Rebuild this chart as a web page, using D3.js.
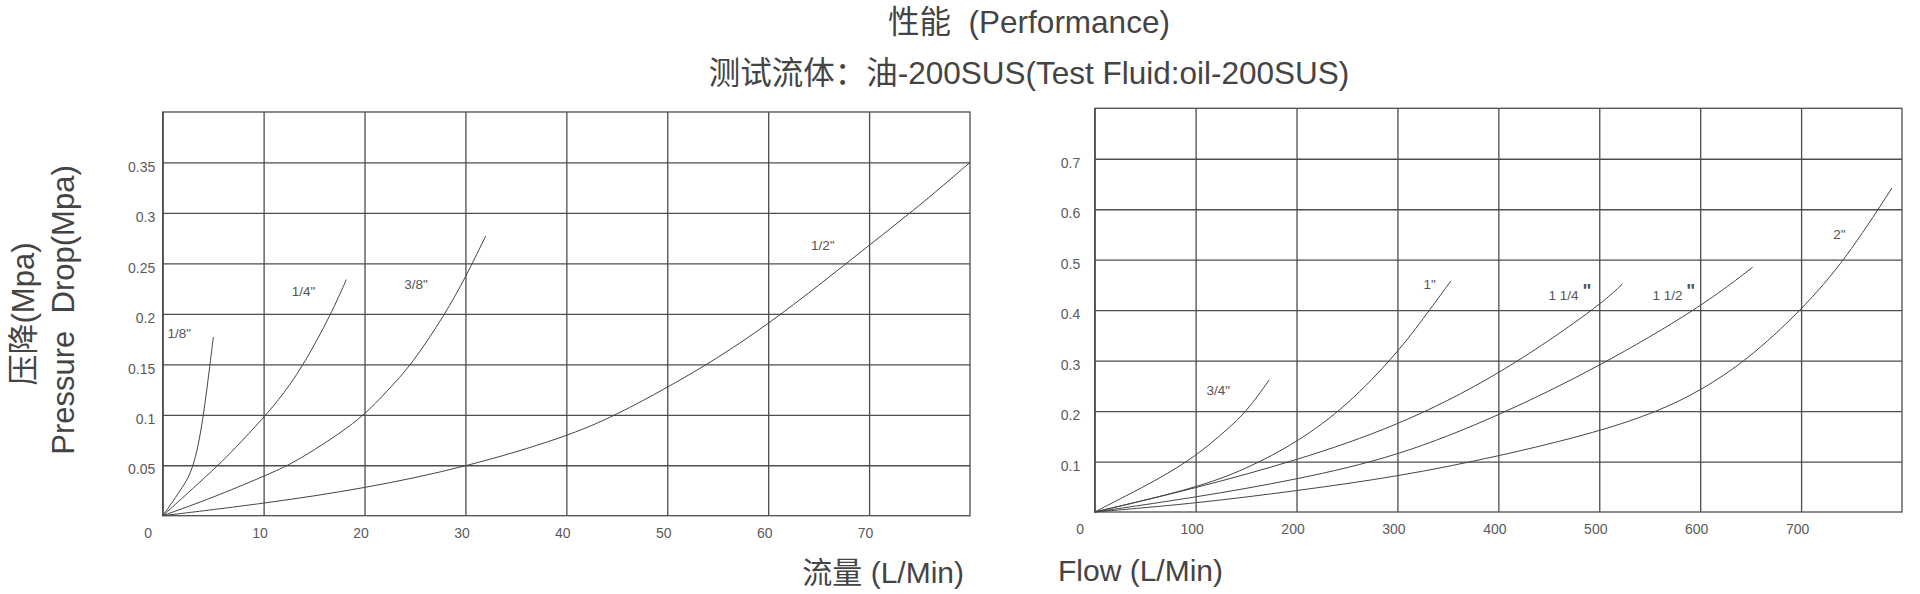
<!DOCTYPE html>
<html>
<head>
<meta charset="utf-8">
<script src="https://cdn.jsdelivr.net/npm/d3@7"></script>
<style>
body { margin: 0; background: #fff; }
text { font-family: "Liberation Sans", "Noto Sans CJK SC", sans-serif; }
</style>
</head>
<body>
<div id="container-div"></div>
<script>
// ---- data: [flow L/min, pressure drop MPa] ----
const leftSizes = ['1/8"', '1/4"', '3/8"', '1/2"'];
const curve18 = [[0,0],[1,0.014],[2,0.029],[2.5,0.037],[3,0.049],[3.5,0.068],[4,0.097],[4.4,0.127],[4.75,0.155],[5.02,0.177]];
const curve14 = [[0,0],[3,0.027],[5.5,0.05],[7,0.065],[10,0.097],[12,0.121],[14,0.15],[16.7,0.2],[18.2,0.234]];
const curve38 = [[0,0],[5,0.018],[10,0.039],[12.5,0.05],[15,0.065],[17.6,0.082],[20,0.1],[22.2,0.123],[24.7,0.15],[28,0.2],[30,0.236],[32,0.277]];
const curve12 = [[0,0],[10,0.012],[20,0.027],[30,0.048],[40,0.078],[45,0.1],[50,0.127],[55,0.156],[60,0.19],[65,0.228],[70,0.268],[75,0.307],[80,0.35]];
const leftLabelAt = [[1.65,0.181],[13.95,0.222],[25.1,0.229],[65.4,0.268]];

const rightSizes = ['3/4"', '1"', '1 1/4"', '1 1/2"', '2"'];
const curve34 = [[0,0],[30,0.031],[63,0.065],[100,0.11],[131,0.163],[151,0.2],[173,0.262]];
const curve1 = [[0,0],[100,0.047],[150,0.085],[200,0.137],[250,0.21],[300,0.315],[330,0.395],[353,0.458]];
const curve114 = [[0,0],[100,0.047],[200,0.102],[300,0.17],[400,0.27],[500,0.408],[523,0.452]];
const curve112 = [[0,0],[100,0.029],[200,0.064],[300,0.11],[400,0.19],[500,0.288],[600,0.405],[652,0.485]];
const curve2 = [[0,0],[100,0.017],[200,0.042],[300,0.07],[400,0.11],[500,0.159],[559,0.2],[600,0.24],[646,0.3],[700,0.399],[744,0.5],[790,0.642]];
const rightLabelAt = [[122.5,0.241],[332,0.452],[471,0.43],[574,0.43],[738,0.551]];

const leftXTicks = [0,10,20,30,40,50,60,70];
const leftYTicks = [0.05,0.1,0.15,0.2,0.25,0.3,0.35];
const rightXTicks = [0,100,200,300,400,500,600,700];
const rightYTicks = [0.1,0.2,0.3,0.4,0.5,0.6,0.7];

const titleLines = ["性能  (Performance)", "测试流体：油-200SUS(Test Fluid:oil-200SUS)"];

let viz = d3.select("#container-div").append("svg")
    .attr("width", 1920)
    .attr("height", 594)
    .attr("id", "viz");

viz.selectAll("text.title").data(titleLines).enter()
    .append("text")
    .attr("class", "title")
    .attr("x", 1029)
    .attr("y", (d, i) => i == 0 ? 33 : 84)
    .attr("text-anchor", "middle")
    .attr("font-size", 31.5)
    .attr("fill", "#444")
    .style("white-space", "pre")
    .text(d => d);

function drawPanel(p) {
    let x = d3.scaleLinear().domain(p.xDomain).range([p.left, p.right]);
    let y = d3.scaleLinear().domain(p.yDomain).range([p.bottom, p.top]);
    let g = viz.append("g");

    // grid + tick labels through the axes
    let xAxis = g.append("g")
        .attr("transform", "translate(0," + p.bottom + ")")
        .call(d3.axisBottom(x).tickValues(p.xTicks).tickSize(-(p.bottom - p.top)).tickPadding(12.5));
    let yAxis = g.append("g")
        .attr("transform", "translate(" + p.left + ",0)")
        .call(d3.axisLeft(y).tickValues(p.yTicks).tickSize(-(p.right - p.left)).tickPadding(p.yPad)
            .tickFormat(d => String(+d.toFixed(2))));

    [xAxis, yAxis].forEach(a => {
        a.select(".domain").remove();
        a.selectAll("line").attr("stroke", "#4d4d4d").attr("stroke-width", 1.3);
        a.selectAll("text")
            .attr("font-size", 14)
            .attr("fill", "#5a5a5a")
            .attr("font-family", "Liberation Sans, sans-serif");
    });
    xAxis.selectAll("text").attr("dx", d => d == 0 ? -15 : -4);
    yAxis.selectAll("text").attr("dy", "0.62em");

    g.append("rect")
        .attr("x", p.left).attr("y", p.top)
        .attr("width", p.right - p.left).attr("height", p.bottom - p.top)
        .attr("fill", "none").attr("stroke", "#4d4d4d").attr("stroke-width", 1.3);

    let line = d3.line().x(d => x(d[0])).y(d => y(d[1])).curve(d3.curveBasis);
    g.selectAll("path.curve").data(p.curves).enter()
        .append("path")
        .attr("class", "curve")
        .attr("d", line)
        .attr("fill", "none")
        .attr("stroke", "#444")
        .attr("stroke-width", 1);

    let labels = g.selectAll("text.size").data(p.sizes).enter()
        .append("text")
        .attr("class", "size")
        .attr("x", (d, i) => x(p.labelAt[i][0]))
        .attr("y", (d, i) => y(p.labelAt[i][1]))
        .attr("dy", "0.35em")
        .attr("text-anchor", "middle")
        .attr("font-size", 13.5)
        .attr("fill", "#555");
    labels.each(function (d) {
        let t = d3.select(this);
        if (d.indexOf(" ") > 0) {
            // mixed fractions carry a large bold inch mark
            t.append("tspan").text(d.replace('"', '') + " ");
            t.append("tspan").attr("font-size", 19).attr("font-weight", "bold")
                .attr("dy", -3).text('"');
        } else {
            t.text(d);
        }
    });
}

drawPanel({
    left: 162.7, right: 970, top: 112, bottom: 515.7,
    xDomain: [0, 80], yDomain: [0, 0.4],
    xTicks: leftXTicks, yTicks: leftYTicks, yPad: 7.5,
    curves: [curve18, curve14, curve38, curve12],
    sizes: leftSizes, labelAt: leftLabelAt
});

drawPanel({
    left: 1094.7, right: 1902, top: 108.3, bottom: 512,
    xDomain: [0, 800], yDomain: [0, 0.8],
    xTicks: rightXTicks, yTicks: rightYTicks, yPad: 14.5,
    curves: [curve34, curve1, curve114, curve112, curve2],
    sizes: rightSizes, labelAt: rightLabelAt
});

// axis titles
viz.append("text")
    .attr("transform", "translate(34,314) rotate(-90)")
    .attr("text-anchor", "middle").attr("font-size", 31).attr("fill", "#444")
    .text("压降(Mpa)");
viz.append("text")
    .attr("transform", "translate(74,310) rotate(-90)")
    .attr("text-anchor", "middle").attr("font-size", 31).attr("fill", "#444")
    .style("white-space", "pre")
    .text("Pressure  Drop(Mpa)");
viz.append("text")
    .attr("x", 964).attr("y", 583)
    .attr("text-anchor", "end").attr("font-size", 30).attr("fill", "#444")
    .text("流量 (L/Min)");
viz.append("text")
    .attr("x", 1058).attr("y", 581)
    .attr("font-size", 30).attr("fill", "#444")
    .text("Flow (L/Min)");
</script>
</body>
</html>
